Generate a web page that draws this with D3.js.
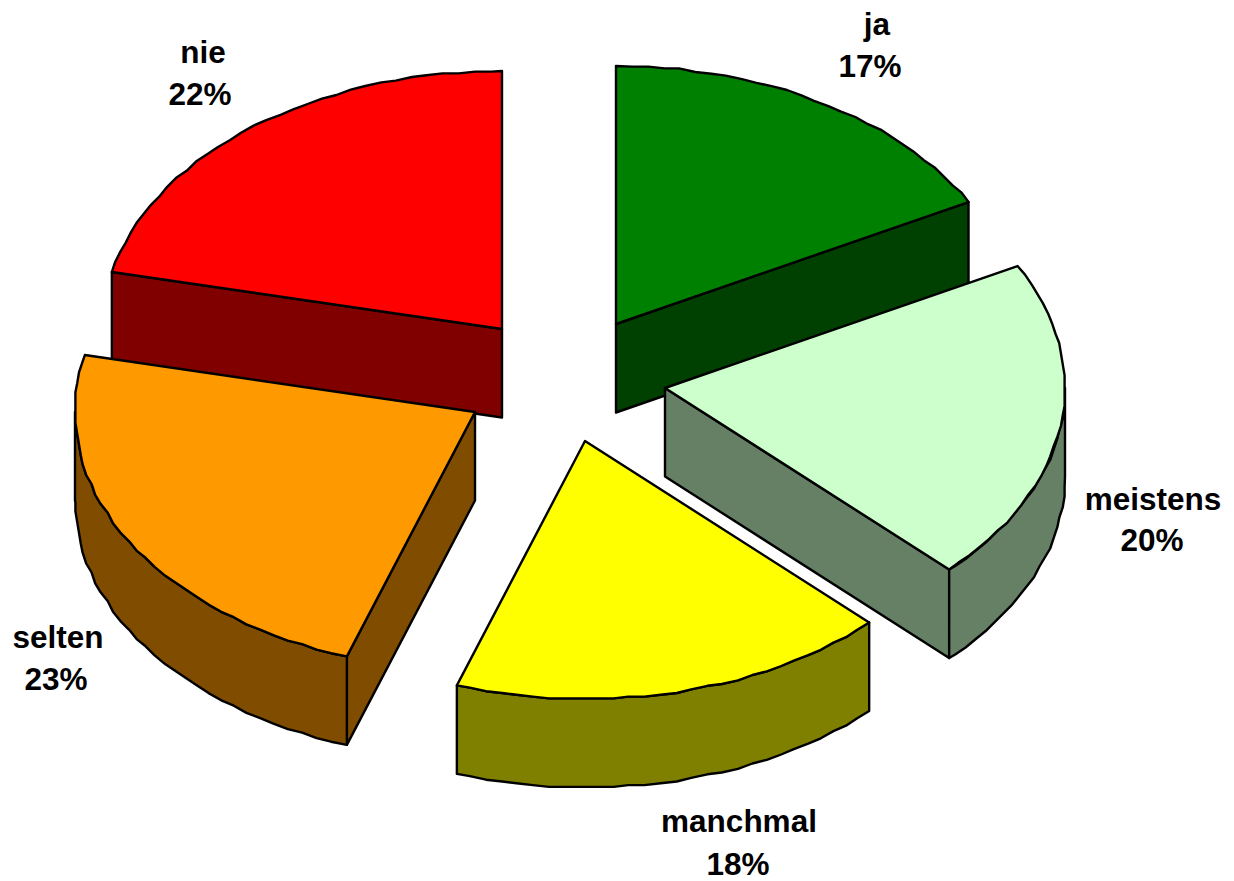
<!DOCTYPE html>
<html><head><meta charset="utf-8">
<style>html,body{margin:0;padding:0;background:#fff;overflow:hidden}svg{display:block}</style>
<script src="https://cdnjs.cloudflare.com/ajax/libs/d3/7.8.5/d3.min.js"></script>
</head><body><svg id="c" width="1234" height="881"></svg>
<script>
const categories=["ja","meistens","manchmal","selten","nie"];
const values=[17.2,20.3,17.8,23.4,21.5];
const topColors=["#008000","#CCFFCC","#FFFF00","#FF9900","#FF0000"];

const rx=400, ry=258, depth=88.5;
const apex=[[616,324],[665,388],[585,441],[475,412],[502,329]];
const namePos=[[877,35],[1153,510],[739,832],[58,648],[203,63]];
const pctPos=[[870,77],[1152,551],[738,875],[56,690],[200,105]];
const drawOrder=[0,4,1,3,2];

const svg=d3.select("#c");
const arcs=d3.pie().sort(null).value(d=>d)(values);
const darken=c=>{const r=d3.rgb(c);return d3.rgb(r.r/2,r.g/2,r.b/2).formatHex();};
const snap=v=>Math.round(v/1.8)*1.8;
const line=d3.line();
const rimPts=(i,a0,a1)=>{
  const [cx,cy]=apex[i];
  const angles=d3.range(a0,a1,0.04).concat([a1]);
  return angles.map((t,k)=>{
    const x=rx*Math.sin(t), y=-ry*Math.cos(t);
    return (k===0||k===angles.length-1)?[cx+x,cy+y]:[cx+snap(x),cy+snap(y)];
  });
};
const drop=pts=>pts.map(p=>[p[0],p[1]+depth]);
const face=(pts,fill)=>svg.append("path").attr("d",line(pts)+"Z").attr("fill",fill)
  .attr("stroke","#000").attr("stroke-width",2.4).attr("stroke-linejoin","round");
const wall=(A,p,fill)=>face([A,p,[p[0],p[1]+depth],[A[0],A[1]+depth]],fill);

drawOrder.forEach(i=>{
  const a=arcs[i], dark=darken(topColors[i]);
  const pts=rimPts(i,a.startAngle,a.endAngle);
  const A=apex[i], s=pts[0], e=pts[pts.length-1];
  // radial side walls that face the viewer
  if(a.endAngle<Math.PI*0.9) wall(A,e,dark);
  if(a.startAngle>Math.PI*1.02) wall(A,s,dark);
  // outer rim on the front half of the ellipse
  const r0=Math.max(a.startAngle,Math.PI/2), r1=Math.min(a.endAngle,Math.PI*1.5);
  if(r1>r0){
    const rim=rimPts(i,r0,r1);
    face(rim.concat(drop(rim).reverse()),dark);
  }
  face([A].concat(pts),topColors[i]);
});

const text=svg.append("g").attr("font-family","'Liberation Sans',Arial,sans-serif")
  .attr("font-weight","bold").attr("font-size",31.5).attr("text-anchor","middle").attr("fill","#000");
categories.forEach((c,i)=>{
  text.append("text").attr("x",namePos[i][0]).attr("y",namePos[i][1]).text(c);
  text.append("text").attr("x",pctPos[i][0]).attr("y",pctPos[i][1]).text(d3.format(".0f")(values[i])+"%");
});
</script></body></html>
